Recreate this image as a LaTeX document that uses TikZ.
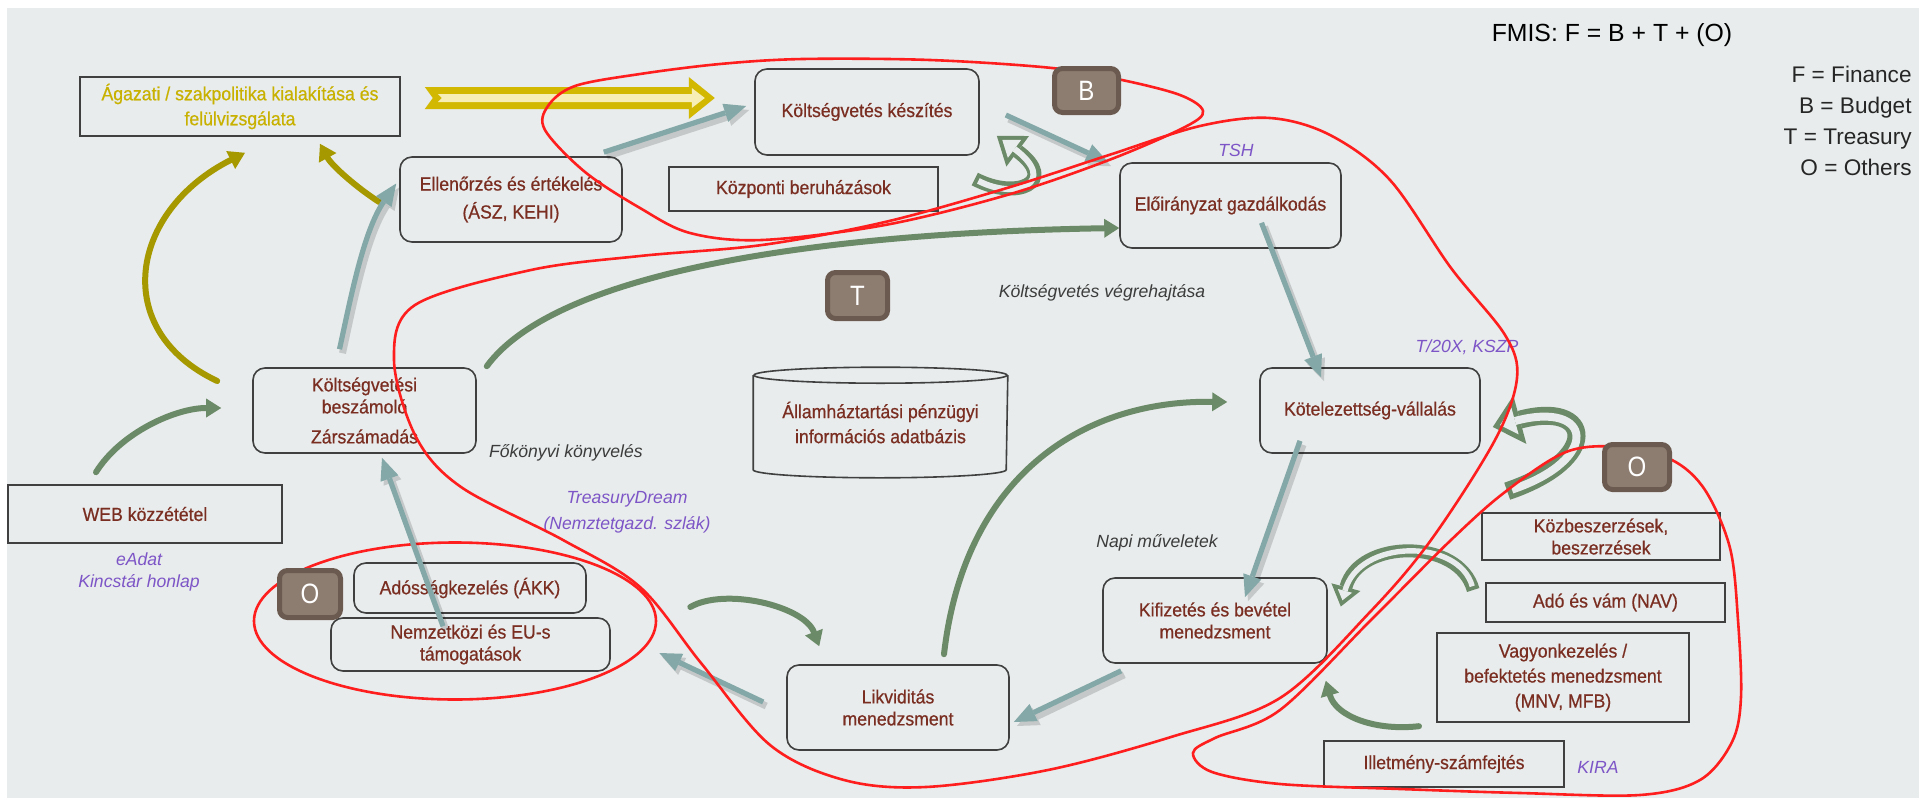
\documentclass[tikz,border=0pt]{standalone}
\usepackage{fontspec}
\setmainfont{Liberation Sans}
\newfontfamily\condf{Liberation Sans}[FakeStretch=0.86]
\newfontfamily\boxff{Liberation Sans}[FakeStretch=0.93, FakeBold=0.6]
\usetikzlibrary{arrows.meta,calc,shapes.geometric}
\pgfdeclarelayer{front}
\pgfsetlayers{main,front}
\definecolor{bgc}{HTML}{E8ECEC}
\definecolor{boxtxt}{HTML}{7A2E22}
\definecolor{olivetxt}{HTML}{C8B100}
\definecolor{tealc}{HTML}{84A8A8}
\definecolor{greenc}{HTML}{6B8A67}
\definecolor{olivec}{HTML}{A69900}
\definecolor{goldc}{HTML}{D2B800}
\definecolor{palegold}{HTML}{F6EEB4}
\definecolor{redc}{HTML}{FF1E1E}
\definecolor{purp}{HTML}{7D55C7}
\definecolor{badgeo}{HTML}{6B5A4F}
\definecolor{badgei}{HTML}{8D7C70}
\definecolor{grayt}{HTML}{3C3C3C}
\newcommand{\bxfont}{\boxff\fontsize{9.5}{11}\selectfont}
\newcommand{\lblit}{\itshape\fontsize{8.8}{11}\selectfont}
\tikzset{
  bx/.style={draw=black!75, line width=0.8pt, inner sep=0pt, align=center, text=boxtxt, font=\bxfont},
  sbx/.style={bx},
  rbx/.style={bx, rounded corners=6pt},
  tarr/.style={draw=tealc, line width=2.6pt, -{Triangle[length=11pt,width=9.5pt,line width=0pt]},
    preaction={draw=black, opacity=0.15, line width=3.5pt, transform canvas={shift={(1.5pt,-2pt)}}}},
  garr/.style={draw=greenc, line width=3pt, line cap=round, -{Triangle[length=7.5pt,width=9.5pt,line width=0pt]}},
  oarr/.style={draw=olivec, line width=3pt, line cap=round, -{Triangle[length=8pt,width=10pt,line width=0pt]}},
  redl/.style={draw=redc, line width=1.3pt},
  badge/.style={fill=badgei, draw=badgeo, line width=2.5pt, rounded corners=4pt, text=white,
    font=\condf\fontsize{14}{14}\selectfont, inner sep=0pt},
  ilab/.style={font=\lblit, text=grayt},
  plab/.style={font=\lblit, text=purp},
}
\begin{document}
\begin{tikzpicture}[x=0.5pt,y=-0.5pt]
\useasboundingbox (0,0) rectangle (1919,798);
\fill[white] (0,0) rectangle (1919,798);
\fill[bgc] (7,8) rectangle (1919,798);

% ---------- boxes ----------
\node[sbx, minimum width=160pt, minimum height=29.5pt, text=olivetxt] (agazati) at (240,106.5) {Ágazati / szakpolitika kialakítása és\\[1.5pt] felülvizsgálata};
\node[rbx, minimum width=112pt, minimum height=43pt] (koltkesz) at (867,112) {Költségvetés készítés};
\node[sbx, minimum width=134.5pt, minimum height=22pt] (kozp) at (803.5,189) {Központi beruházások};
\node[rbx, minimum width=111pt, minimum height=42.5pt] (elle) at (511,199.5) {Ellenőrzés és értékelés\\[3pt] (ÁSZ, KEHI)};
\node[rbx, minimum width=110.5pt, minimum height=42.5pt] (eloir) at (1230.5,205.5) {Előirányzat gazdálkodás};
\node[rbx, minimum width=111.5pt, minimum height=42.5pt] (beszam) at (364.5,410.5) {Költségvetési\\ beszámoló\\[4pt] Zárszámadás};
\node[bx, draw=none, minimum width=126.5pt, minimum height=54.5pt] (db) at (880.5,422.5) {Államháztartási pénzügyi\\[1.5pt] információs adatbázis};
\node[sbx, minimum width=137pt, minimum height=29pt] (web) at (145,514) {WEB közzététel};
\node[rbx, minimum width=110pt, minimum height=42.5pt] (kotel) at (1370,410.5) {Kötelezettség-vállalás};
\node[rbx, minimum width=112pt, minimum height=42.5pt] (kifiz) at (1215,620.5) {Kifizetés és bevétel\\ menedzsment};
\node[rbx, minimum width=111pt, minimum height=42.5pt] (likv) at (898,707.5) {Likviditás\\ menedzsment};
\node[rbx, minimum width=116pt, minimum height=25pt] (adossag) at (470,588) {Adósságkezelés (ÁKK)};
\node[rbx, minimum width=139.5pt, minimum height=26.5pt] (nemzet) at (470.5,644.5) {Nemzetközi és EU-s\\ támogatások};
\node[sbx, minimum width=119pt, minimum height=23.5pt] (kozbesz) at (1601,536.5) {Közbeszerzések,\\ beszerzések};
\node[sbx, minimum width=119.5pt, minimum height=19.5pt] (ado) at (1605.5,602.5) {Adó és vám (NAV)};
\node[sbx, minimum width=126pt, minimum height=44.5pt] (vagyon) at (1563,677.5) {Vagyonkezelés /\\[1.5pt] befektetés menedzsment\\[1.5pt] (MNV, MFB)};
\node[sbx, minimum width=120pt, minimum height=23pt] (illet) at (1444,764) {Illetmény-számfejtés};

% database cylinder
\draw[black!75, line width=0.8pt] ($(db.north)+(0,8)$) ellipse [x radius=126.5, y radius=8];
\draw[black!75, line width=0.8pt] ($(db.north west)+(0,8)$) -- ($(db.south west)+(0,-8)$)
   arc[start angle=180, end angle=0, x radius=126.5, y radius=8] -- ($(db.north east)+(0,8)$);

% left "O" group ellipse
\node[ellipse, redl, minimum width=201pt, minimum height=78.5pt, inner sep=0pt] (oleft) at (455,621) {};

% ---------- labels ----------
\node[font=\fontsize{12.4}{14}\selectfont] (fmis) at (1612,35) {FMIS: F = B + T + (O)};
\node[anchor=north east, align=right, font=\fontsize{11.3}{15.5}\selectfont, text=black!85, inner sep=0pt] (legend) at (1912,66) {F = Finance\\ B = Budget\\ T = Treasury\\ O = Others};
\node[ilab] (kvh) at (1102,293) {Költségvetés végrehajtása};
\node[ilab, anchor=west] (fokk) at (482,453) {Főkönyvi könyvelés};
\node[ilab] (napi) at (1157,543) {Napi műveletek};
\node[plab] (tdream) at (627,499) {TreasuryDream};
\node[plab] (nemztg) at (627,525) {(Nemztetgazd. szlák)};
\node[plab] (tsh) at (1236,150) {TSH};
\node[plab] (t20x) at (1467,347) {T/20X, KSZP};
\node[plab] (eadat) at (139,559) {eAdat};
\node[plab] (kincs) at (139,583) {Kincstár honlap};
\node[plab] (kira) at (1598,767) {KIRA};

% ---------- yellow hollow arrow ----------
\coordinate (ys) at ($(agazati.east)+(24,-8.5)$);
\fill[goldc] (ys) ++(0,-11) -- ++(264,0) -- ++(0,-10) -- ++(26,21) -- ++(-26,21) -- ++(0,-10) -- ++(-264,0) -- ++(8,-11) -- cycle;
\fill[palegold] (ys) ++(13,-4) -- ++(254,0) -- ++(0,-6) -- ++(13,10) -- ++(-13,10) -- ++(0,-6) -- ++(-254,0) -- ++(4,-4) -- cycle;

% ---------- olive arrows ----------
\draw[oarr] ($(beszam.west)+(-35,-29.5)$) .. controls +(-108,-51) and +(-115,58) .. ($(agazati.south)+(5,16)$);
\draw[oarr] ($(elle.west)+(-20,2.5)$) .. controls +(-22,-14) and +(12,22) .. ($(agazati.south)+(80,7)$);

% ---------- teal arrows ----------
\draw[tarr] ($(beszam.north)+(-25,-18)$) .. controls +(11,-50) and +(-33,48) .. ($(elle.west)+(-3,-16)$);
\draw[tarr] ($(elle.north east)+(-19,-4)$) -- ($(koltkesz.west)+(-8,-6)$);
\draw[tarr] ($(koltkesz.east)+(26,3)$) -- ($(eloir.north west)+(-11,0)$);
\draw[tarr] ($(eloir.south)+(31,-26)$) -- ($(kotel.north)+(-49,10)$);
\draw[tarr] ($(kotel.south)+(-70,-13)$) -- ($(kifiz.north)+(30,20)$);
\draw[tarr] ($(kifiz.south west)+(19,7)$) -- ($(likv.east)+(4,14.5)$);
\draw[tarr] ($(likv.west)+(-23,-5.5)$) -- ($(oleft.east)+(2,32)$);
\draw[tarr] ($(nemzet.north)+(-27.5,9)$) -- ($(beszam.south)+(17.5,4)$);

% ---------- green arrows ----------
\draw[garr] ($(web.north)+(-49,-12)$) .. controls +(25,-40) and +(-45,0) .. ($(beszam.west)+(-31,-2.5)$);
\draw[garr] ($(beszam.north east)+(10,-1)$) .. controls +(70,-95) and +(-300,5) .. ($(eloir.west)+(0,22.5)$);
\draw[garr] ($(likv.north)+(46,-10)$) .. controls +(20,-175) and +(-148,-2) .. ($(kotel.west)+(-32,-8.5)$);
\draw[garr] ($(oleft.east)+(33,-14)$) .. controls +(35,-20) and +(-15,-40) .. ($(likv.north west)+(33,-18)$);
\draw[garr] ($(illet.north)+(-25,-14)$) .. controls +(-45,5) and +(10,35) .. ($(kifiz.south east)+(-2,17)$);

% ---------- green hollow arrows ----------
\draw[greenc, line width=7pt, -{Triangle[length=13pt,width=19pt,line width=0pt]}]
  ($(kozp.east)+(36,-10)$) .. controls +(42,22) and +(62,46) .. ($(koltkesz.south east)+(17,-20)$);
\draw[bgc, line width=3pt, -{Triangle[length=7.6pt,width=11.1pt,line width=0pt]}, shorten >=3.4pt, shorten <=2pt]
  ($(kozp.east)+(36,-10)$) .. controls +(42,22) and +(62,46) .. ($(koltkesz.south east)+(17,-20)$);

\draw[greenc, line width=9pt, -{Triangle[length=14pt,width=25pt,line width=0pt]}]
  ($(kozbesz.north west)+(26,-21)$) .. controls +(95,-32) and +(100,-27) .. ($(kotel.east)+(12,16.5)$);
\draw[bgc, line width=4pt, -{Triangle[length=7.75pt,width=13.8pt,line width=0pt]}, shorten >=3.75pt, shorten <=2.5pt]
  ($(kozbesz.north west)+(26,-21)$) .. controls +(95,-32) and +(100,-27) .. ($(kotel.east)+(12,16.5)$);

\draw[greenc, line width=6.5pt, -{Triangle[length=10pt,width=15pt,line width=0pt]}]
  ($(ado.west)+(-12,-12.5)$) .. controls +(-14,-52) and +(18,-68) .. ($(kifiz.east)+(13,-14)$);
\draw[bgc, line width=2.7pt, -{Triangle[length=4.9pt,width=7.4pt,line width=0pt]}, shorten >=3.2pt, shorten <=1.9pt]
  ($(ado.west)+(-12,-12.5)$) .. controls +(-14,-52) and +(18,-68) .. ($(kifiz.east)+(13,-14)$);

% ---------- red loops ----------
\draw[redl] plot[smooth cycle, tension=0.55] coordinates {
  (545,130) (548,106) (575,86) (640,74) (720,64) (803,59) (930,60) (1052,68) (1122,80) (1180,95)
  (1203,111) (1185,127) (1109,160) (1007,195) (885,225) (762,240) (690,233) (640,208) (585,172)};
\draw[redl] plot[smooth cycle, tension=0.55] coordinates {
  (531,270) (640,256) (762,245) (885,222) (1007,188) (1109,155) (1200,126) (1270,118) (1330,135)
  (1390,180) (1451,268) (1505,335) (1517,378) (1495,440) (1431,540) (1370,612) (1280,698) (1171,737)
  (1048,770) (926,787) (844,780) (770,745) (701,663) (640,587) (563,540) (461,487) (416,437) (394,360) (415,305)};
\draw[redl] plot[smooth cycle, tension=0.55] coordinates {
  (1451,540) (1370,621) (1280,710) (1215,738) (1193,753) (1212,772) (1280,784) (1400,789) (1520,793)
  (1640,795) (1700,780) (1732,742) (1741,697) (1738,620) (1730,548) (1705,490) (1672,460) (1620,447)
  (1566,452) (1505,492)};

% ---------- badges ----------
\begin{pgfonlayer}{front}
\node[badge, minimum width=32pt, minimum height=22pt] (bB) at (1086.5,90.5) {B};
\node[badge, minimum width=30pt, minimum height=23pt] (bT) at (857.5,295.5) {T};
\node[badge, minimum width=32.5pt, minimum height=22.5pt] (bOR) at (1637,467) {O};
\node[badge, minimum width=30.5pt, minimum height=23.5pt] (bOL) at (310,594) {O};
\end{pgfonlayer}
\end{tikzpicture}
\end{document}
